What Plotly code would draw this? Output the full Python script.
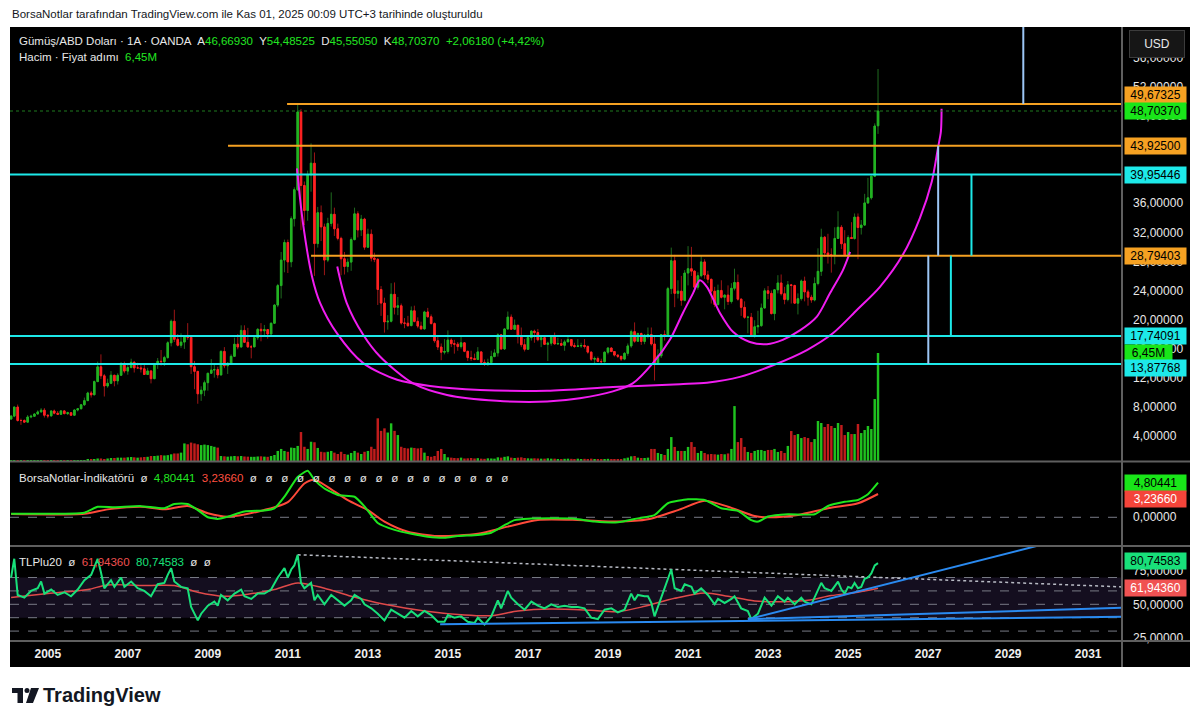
import plotly.graph_objects as go
import pandas as pd

# ---------------- Monthly XAG/USD (OANDA) Feb 2004 - Oct 2025 ----------------
opens = [
    6.29, 6.70, 7.95, 6.10, 6.10, 5.87, 6.58, 6.68, 6.99, 7.28, 7.52,
    6.82, 6.73, 7.41, 7.10, 6.95, 7.42, 7.04, 7.17, 6.82, 7.54, 7.72, 8.26,
    8.83, 9.88, 9.63, 11.45, 13.48, 12.25, 10.85, 11.22, 12.33, 11.55, 12.32, 13.86,
    12.90, 13.38, 14.11, 13.34, 13.34, 13.21, 12.43, 12.92, 11.85, 13.87, 14.25, 14.20,
    14.76, 16.80, 19.76, 17.27, 16.45, 16.89, 17.59, 17.55, 13.50, 12.86, 9.77, 10.27,
    11.30, 12.60, 13.04, 13.10, 12.37, 15.61, 13.63, 13.99, 14.93, 16.60, 16.22, 18.50,
    16.86, 16.23, 16.23, 17.50, 18.65, 18.44, 18.61, 18.01, 19.48, 21.99, 24.67, 28.18,
    30.60, 27.94, 33.88, 37.87, 48.58, 38.45, 35.01, 39.91, 41.52, 30.45, 34.70, 32.75,
    28.18, 33.23, 34.49, 32.48, 31.17, 28.36, 27.30, 27.90, 31.00, 34.55, 32.33, 33.82,
    29.95, 31.74, 28.45, 28.28, 24.13, 22.26, 19.67, 19.76, 23.47, 21.67, 21.89, 19.52,
    19.49, 19.15, 21.20, 19.74, 19.09, 18.71, 21.04, 20.37, 19.44, 17.07, 16.21, 15.50,
    15.60, 17.17, 16.67, 16.60, 16.27, 16.79, 15.62, 14.75, 14.62, 14.50, 15.54, 14.10,
    13.82, 14.07, 14.90, 15.40, 17.90, 15.95, 18.70, 20.33, 18.66, 19.21, 17.65, 16.53,
    15.90, 17.51, 18.40, 18.20, 17.22, 17.50, 16.58, 16.74, 17.66, 16.63, 16.70, 16.45,
    16.92, 17.24, 16.41, 16.29, 16.36, 16.42, 16.30, 15.51, 14.54, 14.63, 14.23, 14.19,
    15.50, 16.07, 15.59, 15.10, 14.93, 14.55, 15.34, 16.36, 18.33, 17.01, 18.07, 16.98,
    17.85, 17.93, 16.63, 13.97, 15.00, 17.93, 17.78, 24.25, 28.09, 23.60, 23.90, 22.64,
    26.40, 26.99, 26.66, 24.45, 26.03, 27.93, 26.13, 25.54, 23.90, 22.06, 24.00, 23.06,
    23.36, 22.47, 24.30, 25.10, 22.80, 21.67, 20.30, 20.31, 17.80, 19.00, 19.15, 21.59,
    23.95, 23.60, 20.81, 24.09, 25.03, 23.55, 22.76, 24.77, 24.68, 22.25, 22.87, 25.30,
    23.80, 23.07, 22.68, 24.95, 26.63, 31.33, 29.16, 28.90, 28.89, 31.16, 32.70, 30.43,
    28.90, 31.29, 31.15, 34.10, 32.66, 33.00, 36.05, 36.75, 39.72, 46.6693,
]
highs = [
    6.85, 7.95, 8.29, 6.35, 6.25, 6.85, 6.90, 7.10, 7.50, 7.80, 7.80,
    6.95, 7.45, 7.60, 7.40, 7.50, 7.50, 7.30, 7.20, 7.60, 7.80, 8.30, 9.25,
    10.05, 10.15, 11.60, 14.20, 15.20, 12.50, 11.85, 12.90, 12.35, 12.60, 14.15, 14.20,
    13.75, 14.60, 14.30, 14.05, 13.80, 13.80, 13.35, 13.00, 13.90, 14.70, 15.80, 15.00,
    17.00, 20.00, 21.35, 18.00, 18.10, 17.65, 19.50, 17.70, 14.30, 12.90, 10.80, 11.60,
    12.65, 14.55, 14.00, 13.50, 15.75, 16.20, 14.10, 15.20, 17.50, 18.00, 19.20, 19.20,
    18.85, 16.50, 17.80, 18.80, 19.50, 19.25, 18.70, 19.60, 22.10, 24.90, 29.30, 31.00,
    31.00, 34.20, 38.20, 49.80, 49.00, 39.00, 40.50, 44.25, 43.00, 35.50, 35.70, 33.20,
    34.00, 37.50, 35.40, 33.20, 31.40, 29.30, 28.40, 31.30, 35.40, 34.90, 34.40, 34.00,
    32.50, 32.40, 29.20, 28.45, 24.60, 23.00, 20.60, 25.00, 25.10, 23.10, 22.20, 20.20,
    20.50, 21.80, 21.90, 20.30, 19.70, 21.20, 21.60, 20.70, 19.60, 17.70, 16.70, 17.30,
    18.50, 17.40, 17.20, 16.90, 17.80, 16.90, 15.70, 15.70, 15.30, 16.20, 15.60, 14.50,
    14.60, 15.70, 15.90, 18.10, 18.00, 18.80, 21.10, 20.70, 20.00, 19.25, 18.90, 17.30,
    17.60, 18.50, 18.60, 18.70, 17.70, 17.70, 16.95, 17.80, 18.20, 17.50, 17.30, 17.20,
    17.70, 17.30, 16.80, 17.30, 16.80, 17.30, 16.40, 15.60, 14.90, 14.90, 14.60, 15.60,
    16.20, 16.20, 15.60, 15.20, 15.00, 15.50, 16.70, 18.60, 19.60, 18.20, 18.20, 18.00,
    18.90, 18.90, 17.60, 15.90, 18.00, 18.50, 24.50, 29.90, 28.90, 25.40, 26.00, 26.80,
    30.10, 30.00, 26.80, 26.50, 28.80, 28.30, 26.70, 25.60, 24.50, 24.80, 25.40, 23.45,
    24.70, 25.00, 27.00, 26.20, 22.90, 22.50, 20.50, 20.90, 19.90, 21.20, 22.20, 24.30,
    24.60, 24.00, 24.20, 26.10, 26.20, 24.50, 25.30, 24.90, 24.80, 23.60, 25.50, 25.90,
    24.10, 23.40, 25.80, 29.80, 32.50, 31.50, 31.80, 29.80, 32.70, 34.90, 33.00, 32.30,
    31.60, 33.40, 34.60, 34.60, 33.70, 37.30, 39.50, 39.80, 47.00, 54.48525,
]
lows = [
    6.25, 6.55, 5.95, 5.50, 5.75, 5.85, 6.40, 6.60, 6.95, 7.20, 6.50,
    6.40, 6.65, 6.95, 6.85, 6.90, 6.95, 6.85, 6.75, 6.80, 7.35, 7.60, 8.10,
    8.80, 9.25, 9.60, 11.40, 11.80, 9.40, 10.60, 11.10, 10.80, 11.05, 12.30, 12.60,
    12.40, 13.30, 12.70, 13.20, 12.70, 12.40, 12.35, 11.20, 11.80, 13.20, 13.65, 13.60,
    14.60, 16.30, 16.90, 16.30, 16.10, 15.95, 17.20, 12.50, 10.40, 8.40, 8.80, 9.45,
    10.20, 12.50, 12.00, 11.90, 12.30, 13.30, 12.50, 13.80, 14.90, 15.90, 16.15, 16.80,
    16.10, 14.65, 16.20, 17.20, 17.00, 17.80, 17.35, 17.80, 19.40, 21.70, 22.90, 26.50,
    26.40, 27.20, 32.80, 37.70, 32.30, 33.00, 33.60, 37.60, 26.00, 29.90, 30.80, 26.10,
    27.90, 32.80, 31.50, 30.90, 26.10, 26.20, 26.50, 26.70, 30.90, 31.30, 31.50, 29.60,
    29.90, 28.00, 27.90, 22.00, 20.50, 18.20, 18.60, 19.60, 20.70, 20.60, 19.30, 18.80,
    19.00, 19.10, 19.60, 18.80, 18.60, 18.60, 20.30, 19.30, 16.80, 15.80, 14.40, 15.20,
    15.30, 16.20, 15.30, 15.70, 16.00, 15.50, 14.30, 14.30, 14.40, 14.40, 13.90, 13.60,
    13.60, 14.00, 14.80, 14.90, 15.80, 15.80, 18.60, 18.60, 18.55, 16.70, 16.20, 15.60,
    15.80, 17.10, 16.80, 17.00, 16.20, 16.50, 14.30, 16.40, 16.60, 16.55, 16.40, 15.70,
    16.90, 16.20, 16.10, 16.20, 16.10, 16.00, 15.30, 14.30, 13.95, 14.15, 13.90, 14.10,
    15.20, 15.50, 14.90, 14.70, 14.30, 14.40, 15.00, 16.10, 16.80, 16.90, 16.50, 16.60,
    17.40, 16.40, 11.60, 13.90, 14.70, 17.10, 17.70, 23.50, 21.70, 22.90, 21.90, 22.50,
    24.70, 26.00, 23.80, 24.10, 25.80, 25.60, 25.00, 22.20, 21.70, 21.90, 22.90, 21.40,
    22.00, 22.20, 24.00, 22.60, 20.50, 20.10, 18.10, 17.60, 17.50, 18.10, 19.00, 21.50,
    22.80, 20.70, 19.90, 23.60, 23.30, 22.10, 22.50, 22.20, 22.20, 20.70, 22.60, 22.50,
    21.90, 22.30, 22.50, 24.70, 26.00, 28.60, 27.70, 26.45, 27.60, 31.10, 29.70, 28.70,
    28.75, 31.10, 31.00, 28.30, 31.70, 32.90, 35.90, 36.50, 39.70, 45.5505,
]
closes = [
    6.70, 7.95, 6.10, 6.10, 5.87, 6.58, 6.68, 6.99, 7.28, 7.52, 6.82,
    6.73, 7.41, 7.10, 6.95, 7.42, 7.04, 7.17, 6.82, 7.54, 7.72, 8.26, 8.83,
    9.88, 9.63, 11.45, 13.48, 12.25, 10.85, 11.22, 12.33, 11.55, 12.32, 13.86, 12.90,
    13.38, 14.11, 13.34, 13.34, 13.21, 12.43, 12.92, 11.85, 13.87, 14.25, 14.20, 14.76,
    16.80, 19.76, 17.27, 16.45, 16.89, 17.59, 17.55, 13.50, 12.86, 9.77, 10.27, 11.30,
    12.60, 13.04, 13.10, 12.37, 15.61, 13.63, 13.99, 14.93, 16.60, 16.22, 18.50, 16.86,
    16.23, 16.23, 17.50, 18.65, 18.44, 18.61, 18.01, 19.48, 21.99, 24.67, 28.18, 30.60,
    27.94, 33.88, 37.87, 48.58, 38.45, 35.01, 39.91, 41.52, 30.45, 34.70, 32.75, 28.18,
    33.23, 34.49, 32.48, 31.17, 28.36, 27.30, 27.90, 31.00, 34.55, 32.33, 33.82, 29.95,
    31.74, 28.45, 28.28, 24.13, 22.26, 19.67, 19.76, 23.47, 21.67, 21.89, 19.52, 19.49,
    19.15, 21.20, 19.74, 19.09, 18.71, 21.04, 20.37, 19.44, 17.07, 16.21, 15.50, 15.60,
    17.17, 16.67, 16.60, 16.27, 16.79, 15.62, 14.75, 14.62, 14.50, 15.54, 14.10, 13.82,
    14.07, 14.90, 15.40, 17.90, 15.95, 18.70, 20.33, 18.66, 19.21, 17.65, 16.53, 15.90,
    17.51, 18.40, 18.20, 17.22, 17.50, 16.58, 16.74, 17.66, 16.63, 16.70, 16.45, 16.92,
    17.24, 16.41, 16.29, 16.36, 16.42, 16.30, 15.51, 14.54, 14.63, 14.23, 14.19, 15.50,
    16.07, 15.59, 15.10, 14.93, 14.55, 15.34, 16.36, 18.33, 17.01, 18.07, 16.98, 17.85,
    17.93, 16.63, 13.97, 15.00, 17.93, 17.78, 24.25, 28.09, 23.60, 23.90, 22.64, 26.40,
    26.99, 26.66, 24.45, 26.03, 27.93, 26.13, 25.54, 23.90, 22.06, 24.00, 23.06, 23.36,
    22.47, 24.30, 25.10, 22.80, 21.67, 20.30, 20.31, 17.80, 19.00, 19.15, 21.59, 23.95,
    23.60, 20.81, 24.09, 25.03, 23.55, 22.76, 24.77, 24.68, 22.25, 22.87, 25.30, 23.80,
    23.07, 22.68, 24.95, 26.63, 31.33, 29.16, 28.90, 28.89, 31.16, 32.70, 30.43, 28.90,
    31.29, 31.15, 34.10, 32.66, 33.00, 36.05, 36.75, 39.72, 46.64, 48.7037,
]
volumes_m = [
    0.02, 0.02, 0.02, 0.02, 0.02, 0.02, 0.02, 0.02, 0.02, 0.02, 0.02,
    0.03, 0.03, 0.03, 0.03, 0.04, 0.03, 0.04, 0.04, 0.04, 0.05, 0.05, 0.06,
    0.08, 0.10, 0.12, 0.15, 0.15, 0.12, 0.15, 0.18, 0.18, 0.20, 0.20, 0.20,
    0.22, 0.24, 0.22, 0.20, 0.22, 0.24, 0.25, 0.30, 0.30, 0.32, 0.35, 0.33,
    0.35, 0.40, 0.45, 0.45, 0.50, 1.05, 1.00, 1.10, 1.05, 1.00, 0.95, 0.98,
    0.95, 0.90, 0.85, 0.80, 0.30, 0.28, 0.26, 0.28, 0.30, 0.28, 0.30, 0.27,
    0.26, 0.25, 0.25, 0.27, 0.28, 0.26, 0.25, 0.30, 0.36, 0.60, 0.72, 0.60,
    0.55, 0.80, 0.78, 0.90, 1.73, 0.85, 0.72, 1.15, 1.12, 0.78, 0.55, 0.52,
    0.55, 0.60, 0.50, 0.42, 0.55, 0.42, 0.38, 0.48, 0.60, 0.50, 0.42, 0.55,
    0.60, 0.85, 0.72, 2.55, 1.80, 1.95, 1.70, 2.25, 1.80, 1.55, 0.85, 0.78,
    0.75, 0.80, 0.78, 0.75, 0.78, 0.50, 0.30, 0.25, 0.30, 0.60, 0.72, 0.42,
    0.22, 0.20, 0.18, 0.17, 0.20, 0.15, 0.16, 0.18, 0.15, 0.17, 0.14, 0.13,
    0.16, 0.15, 0.14, 0.22, 0.20, 0.25, 0.28, 0.20, 0.18, 0.20, 0.22, 0.18,
    0.16, 0.15, 0.16, 0.15, 0.14, 0.14, 0.16, 0.14, 0.14, 0.12, 0.12, 0.13,
    0.14, 0.13, 0.12, 0.14, 0.12, 0.13, 0.12, 0.14, 0.12, 0.12, 0.11, 0.12,
    0.13, 0.12, 0.12, 0.11, 0.12, 0.16, 0.20, 0.28, 0.30, 0.20, 0.18, 0.18,
    0.20, 0.72, 0.72, 0.48, 0.42, 0.36, 0.72, 1.43, 0.84, 0.60, 0.60, 0.60,
    0.84, 1.13, 0.84, 0.48, 0.60, 0.48, 0.40, 0.42, 0.40, 0.38, 0.42, 0.40,
    0.45, 0.72, 3.28, 1.13, 1.37, 0.84, 0.54, 0.48, 0.60, 0.66, 0.66, 0.60,
    0.66, 0.66, 0.72, 0.54, 0.60, 0.48, 0.90, 1.79, 1.55, 1.61, 1.37, 1.43,
    1.37, 1.13, 1.31, 2.39, 2.27, 2.03, 2.21, 2.09, 1.97, 2.27, 2.15, 1.55,
    1.73, 1.61, 1.61, 2.21, 1.67, 1.85, 2.09, 1.91, 3.70, 6.45,
]
months = pd.date_range("2004-02-01", periods=len(closes), freq="MS")

# ---------------- BorsaNotlar-Indikatoru (pane 1) ----------------
ind_green_dates = ["2004-02-01", "2005-12-01", "2006-04-01", "2006-09-01", "2007-05-01", "2007-12-01",
                   "2008-03-01", "2008-07-01", "2008-10-01", "2009-01-01", "2009-04-01", "2009-07-01",
                   "2009-12-01", "2010-06-01", "2010-09-01", "2010-12-01", "2011-04-01", "2011-07-01",
                   "2011-09-01", "2011-12-01", "2012-04-01", "2012-09-01", "2012-12-01", "2013-04-01",
                   "2013-09-01", "2014-02-01", "2014-07-01", "2014-12-01", "2015-04-01", "2015-10-01",
                   "2016-02-01", "2016-06-01", "2016-09-01", "2017-01-01", "2017-09-01", "2018-03-01",
                   "2018-09-01", "2019-04-01", "2019-10-01", "2020-03-01", "2020-07-01", "2021-01-01",
                   "2021-06-01", "2021-11-01", "2022-04-01", "2022-08-01", "2022-10-01", "2023-01-01",
                   "2023-07-01", "2024-03-01", "2024-07-01", "2024-12-01", "2025-04-01", "2025-07-01",
                   "2025-10-01"]
ind_green_vals = [0.50, 0.64, 1.45, 1.40, 1.55, 1.25, 1.85, 1.85, 1.00, 0.00, -0.23, 0.09,
                  0.80, 0.95, 1.25, 2.86, 5.60, 6.45, 5.20, 4.00, 3.10, 2.85, 1.50, -0.80,
                  -1.75, -2.30, -2.70, -2.85, -2.60, -2.45, -2.15, -1.10, -0.40, -0.20, -0.15, -0.20,
                  -0.60, -0.70, -0.15, 0.30, 1.95, 2.50, 2.40, 1.25, 0.90, -0.40, -0.60, 0.10,
                  0.42, 0.42, 1.57, 2.15, 2.40, 3.20, 4.80441]
ind_red_dates = ["2004-02-01", "2005-12-01", "2006-07-01", "2007-05-01", "2007-12-01", "2008-07-01",
                 "2009-01-01", "2009-07-01", "2010-04-01", "2011-01-01", "2011-06-01", "2011-09-01",
                 "2012-01-01", "2012-07-01", "2013-01-01", "2013-06-01", "2014-01-01", "2014-10-01",
                 "2015-10-01", "2016-07-01", "2017-04-01", "2018-04-01", "2019-04-01", "2020-01-01",
                 "2020-10-01", "2021-06-01", "2022-01-01", "2022-09-01", "2023-01-01", "2023-10-01",
                 "2024-07-01", "2025-04-01", "2025-10-01"]
ind_red_vals = [0.45, 0.50, 1.10, 1.47, 1.10, 1.56, 0.56, 0.09, 0.78, 2.10, 4.70, 5.22,
                4.20, 2.37, 1.00, -0.60, -2.00, -2.60, -2.30, -1.30, -0.37, -0.37, -0.60, -0.28,
                1.00, 2.30, 1.47, 0.18, 0.00, 0.32, 1.25, 1.94, 3.2366]

# ---------------- TLPlu20 (pane 2) ----------------
tlp_dates = ["2004-02-01", "2004-03-01", "2004-04-01", "2004-06-01", "2004-08-01", "2004-10-01", "2004-11-01",
             "2004-12-01", "2005-02-01", "2005-04-01", "2005-06-01", "2005-08-01", "2005-10-01", "2005-12-01",
             "2006-02-01", "2006-04-01", "2006-05-01", "2006-06-01", "2006-08-01", "2006-09-01", "2006-11-01",
             "2006-12-01", "2007-02-01", "2007-04-01", "2007-06-01", "2007-08-01", "2007-10-01", "2007-12-01",
             "2008-01-01", "2008-02-01", "2008-03-01", "2008-05-01", "2008-07-01", "2008-08-01", "2008-10-01",
             "2008-11-01", "2009-01-01", "2009-03-01", "2009-04-01", "2009-05-01", "2009-07-01", "2009-09-01",
             "2009-11-01", "2009-12-01", "2010-02-01", "2010-04-01", "2010-06-01", "2010-08-01", "2010-10-01",
             "2010-12-01", "2011-01-01", "2011-02-01", "2011-03-01", "2011-04-01", "2011-05-01", "2011-06-01",
             "2011-08-01", "2011-09-01", "2011-10-01", "2011-12-01", "2012-02-01", "2012-04-01", "2012-06-01",
             "2012-08-01", "2012-09-01", "2012-11-01", "2012-12-01", "2013-02-01", "2013-04-01", "2013-06-01",
             "2013-08-01", "2013-10-01", "2013-12-01", "2014-02-01", "2014-04-01", "2014-06-01", "2014-08-01",
             "2014-10-01", "2014-12-01", "2015-01-01", "2015-03-01", "2015-05-01", "2015-07-01", "2015-09-01",
             "2015-10-01", "2015-12-01", "2016-02-01", "2016-04-01", "2016-05-01", "2016-07-01", "2016-08-01",
             "2016-10-01", "2016-12-01", "2017-02-01", "2017-04-01", "2017-06-01", "2017-08-01", "2017-10-01",
             "2017-12-01", "2018-02-01", "2018-04-01", "2018-06-01", "2018-08-01", "2018-10-01", "2018-12-01",
             "2019-02-01", "2019-04-01", "2019-06-01", "2019-08-01", "2019-09-01", "2019-10-01", "2019-12-01",
             "2020-01-01", "2020-02-01", "2020-03-01", "2020-05-01", "2020-07-01", "2020-08-01", "2020-09-01",
             "2020-11-01", "2020-12-01", "2021-02-01", "2021-03-01", "2021-05-01", "2021-07-01", "2021-09-01",
             "2021-10-01", "2021-12-01", "2022-02-01", "2022-03-01", "2022-05-01", "2022-07-01", "2022-08-01",
             "2022-10-01", "2022-12-01", "2023-02-01", "2023-04-01", "2023-06-01", "2023-07-01", "2023-09-01",
             "2023-11-01", "2023-12-01", "2024-02-01", "2024-04-01", "2024-05-01", "2024-06-01", "2024-08-01",
             "2024-10-01", "2024-11-01", "2024-12-01", "2025-01-01", "2025-02-01", "2025-03-01", "2025-04-01",
             "2025-05-01", "2025-06-01", "2025-07-01", "2025-08-01", "2025-09-01", "2025-10-01"]
tlp_vals = [70, 84, 57, 55, 60, 62, 67,
            58, 61, 57, 59, 56, 61, 68,
            72, 84, 74, 62, 68, 63, 70,
            63, 67, 62, 60, 56, 65, 66,
            72, 77, 67, 63, 62, 48, 38,
            43, 49, 52, 49, 57, 53, 58,
            61, 56, 54, 58, 58, 61, 70,
            77, 70, 76, 79, 87, 66, 62,
            66, 53, 57, 50, 57, 53, 49,
            53, 57, 54, 50, 47, 43, 38,
            46, 43, 40, 45, 41, 45, 42,
            37, 37, 42, 40, 41, 37, 36,
            40, 35, 41, 53, 47, 60, 55,
            50, 46, 52, 49, 47, 50, 48,
            49, 48, 48, 47, 40, 39, 46,
            47, 44, 46, 58, 53, 57, 56,
            56, 51, 41, 55, 70, 76, 62,
            60, 65, 63, 58, 62, 57, 50,
            54, 51, 54, 56, 47, 45, 39,
            43, 55, 49, 56, 52, 55, 50,
            55, 52, 50, 60, 66, 62, 60,
            67, 61, 58, 63, 62, 66, 62,
            63, 69, 70, 73, 79, 80.74583]
tlp_ma_dates = ["2004-02-01", "2005-01-01", "2006-01-01", "2006-07-01", "2007-07-01", "2008-03-01",
                "2008-10-01", "2009-06-01", "2010-01-01", "2010-09-01", "2011-04-01", "2011-12-01",
                "2012-08-01", "2013-06-01", "2014-06-01", "2015-06-01", "2016-02-01", "2016-10-01",
                "2017-08-01", "2018-08-01", "2019-04-01", "2019-12-01", "2020-09-01", "2021-06-01",
                "2022-01-01", "2022-09-01", "2023-06-01", "2024-01-01", "2024-08-01", "2025-04-01",
                "2025-10-01"]
tlp_ma_vals = [55, 58, 61, 64.5, 64, 64, 59, 56, 57.5, 61, 66, 62,
               56, 50, 45, 42, 41.5, 45, 46.5, 45.5, 44.5, 48.5, 54.5, 58.5,
               56, 52.5, 52, 53, 56.5, 59, 61.9436]

# ---------------- Drawings ----------------
orange_levels = [49.67325, 43.92500, 28.79403]
orange_starts = ["2010-12-25", "2009-07-04", "2011-08-01"]
cyan_levels = [39.95446, 17.74091, 13.87768]
last_price = 48.70370
proj_dates = ["2029-05-19", "2027-04-03", "2028-02-01", "2027-01-03", "2027-07-28"]
proj_from = [49.67325, 43.92500, 39.95446, 28.79403, 28.79403]
proj_to = [60.27, 28.79403, 28.79403, 13.87768, 17.74091]
proj_kind = ["blue", "blue", "cyan", "blue", "cyan"]

arc_a_dates = ["2011-03-25", "2011-05-19", "2011-08-10", "2011-10-22", "2012-03-25", "2012-11-19",
               "2013-09-25", "2014-07-22", "2015-10-22", "2017-06-25", "2019-02-15", "2020-10-19",
               "2021-06-22", "2022-04-19", "2023-02-15", "2023-12-22", "2024-08-15", "2025-03-22",
               "2025-10-19", "2026-05-15", "2026-10-19", "2027-02-04", "2027-04-01", "2027-04-28",
               "2027-05-04"]
arc_a_vals = [40.8, 33.3, 25.9, 22.3, 18.1, 14.0, 11.7, 10.85, 10.3, 10.2, 10.7, 11.1,
              11.3, 12.1, 13.7, 15.8, 18.1, 21.3, 24.5, 28.9, 34.0, 39.0, 43.6, 45.9, 49.0]
arc_b_dates = ["2012-03-27", "2012-06-21", "2012-11-19", "2013-04-21", "2014-02-18", "2014-12-24",
               "2016-03-22", "2017-06-25", "2018-04-19", "2019-02-15", "2019-08-15", "2020-02-15",
               "2020-07-19", "2020-11-15", "2021-02-15", "2021-04-19", "2021-06-22", "2021-10-19",
               "2022-02-15", "2022-07-19", "2022-12-22", "2023-05-15", "2023-10-19", "2024-03-22",
               "2024-07-19", "2024-11-15", "2025-01-19"]
arc_b_vals = [27.3, 22.3, 17.9, 14.9, 11.2, 9.6, 8.8, 8.7, 9.15, 10.1, 11.2, 14.0,
              17.2, 20.9, 23.6, 25.4, 24.5, 20.9, 18.3, 16.9, 16.6, 17.2, 18.5, 20.4,
              23.6, 26.8, 29.3]

tl_dates = [["2014-10-22", "2031-11-06"], ["2022-07-01", "2031-11-06"], ["2022-07-01", "2029-09-25"]]
tl_vals = [[35.1, 40.7], [38.8, 47.5], [38.8, 93.7]]
dotted_dates = ["2011-04-01", "2031-11-06"]
dotted_vals = [87.0, 63.0]

# ---------------- geometry helpers (page body has an 8px margin) ----------------
W, H = 1192, 716
L, R, T, B = 2, 78, 19, 83
PW, PH = W - L - R, H - T - B
def fx(px): return (px - 8 - L) / PW          # px = screen x
def fy(py): return (H - B - (py - 8)) / PH   # py = screen y

FONT = "Liberation Sans, Arial, sans-serif"
UP, DN = "#22b322", "#ff2222"
WUP, WDN = "#1f6b1f", "#9c1616"
VUP, VDN = "#1fc21f", "#c01c1c"
ORANGE, CYAN, LBLUE = "#f5a122", "#1de9e9", "#9cc6f5"
MAG = "#f01cf0"
G1, R1 = "#1ee61e", "#ff4a3a"
G2, R2 = "#18e07a", "#e04a4a"
BLUE = "#2a8af0"
XR = ["2004-01-22", "2031-11-06"]

fig = go.Figure()

vcol = [VUP if c >= o else VDN for o, c in zip(opens, closes)]
fig.add_trace(go.Bar(x=months, y=volumes_m, marker=dict(color=vcol, line=dict(width=0)),
                     yaxis="y2", hoverinfo="skip", showlegend=False))
fig.add_trace(go.Candlestick(x=months, open=opens, high=highs, low=lows, close=closes,
                             increasing=dict(line=dict(color=WUP, width=1), fillcolor=WUP),
                             decreasing=dict(line=dict(color=WDN, width=1), fillcolor=WDN),
                             whiskerwidth=0, hoverinfo="skip", showlegend=False))
body_hi = [max(o, c) for o, c in zip(opens, closes)]
body_lo = [min(o, c) for o, c in zip(opens, closes)]
fig.add_trace(go.Candlestick(x=months, open=opens, high=body_hi, low=body_lo, close=closes,
                             increasing=dict(line=dict(color=UP, width=1), fillcolor=UP),
                             decreasing=dict(line=dict(color=DN, width=1), fillcolor=DN),
                             whiskerwidth=0, hoverinfo="skip", showlegend=False))
for d, v in [(arc_a_dates, arc_a_vals), (arc_b_dates, arc_b_vals)]:
    fig.add_trace(go.Scatter(x=d, y=v, mode="lines", line=dict(color=MAG, width=2, shape="spline", smoothing=0.8),
                             hoverinfo="skip", showlegend=False))

fig.add_trace(go.Scatter(x=ind_red_dates, y=ind_red_vals, yaxis="y3", mode="lines",
                         line=dict(color=R1, width=2, shape="spline", smoothing=0.7), hoverinfo="skip", showlegend=False))
fig.add_trace(go.Scatter(x=ind_green_dates, y=ind_green_vals, yaxis="y3", mode="lines",
                         line=dict(color=G1, width=2, shape="spline", smoothing=0.5), hoverinfo="skip", showlegend=False))
fig.add_trace(go.Scatter(x=dotted_dates, y=dotted_vals, yaxis="y4", mode="lines",
                         line=dict(color="#b8bbc4", width=1.5, dash="dot"), hoverinfo="skip", showlegend=False))
fig.add_trace(go.Scatter(x=tlp_ma_dates, y=tlp_ma_vals, yaxis="y4", mode="lines",
                         line=dict(color=R2, width=1.5, shape="spline", smoothing=0.8), hoverinfo="skip", showlegend=False))
fig.add_trace(go.Scatter(x=tlp_dates, y=tlp_vals, yaxis="y4", mode="lines",
                         line=dict(color=G2, width=2), hoverinfo="skip", showlegend=False))
for d, v in zip(tl_dates, tl_vals):
    fig.add_trace(go.Scatter(x=d, y=v, yaxis="y4", mode="lines", line=dict(color=BLUE, width=2),
                             hoverinfo="skip", showlegend=False))

shapes = []
shapes.append(dict(type="rect", xref="paper", yref="paper", x0=fx(10), x1=fx(1190), y0=fy(667), y1=fy(27),
                   fillcolor="#000000", line=dict(width=0), layer="below"))
shapes.append(dict(type="rect", xref="paper", yref="y4", x0=0, x1=1, y0=40, y1=70,
                   fillcolor="rgba(126,87,194,0.16)", line=dict(width=0), layer="below"))
for lv in [30, 40, 50, 60, 70]:
    shapes.append(dict(type="line", xref="paper", yref="y4", x0=0, x1=1, y0=lv, y1=lv,
                       line=dict(color="#787b86", width=1, dash="dash"), layer="below"))
shapes.append(dict(type="line", xref="paper", yref="y3", x0=0, x1=1, y0=0, y1=0,
                   line=dict(color="#787b86", width=1, dash="dash"), layer="below"))
shapes.append(dict(type="line", xref="paper", yref="y", x0=0, x1=1, y0=last_price, y1=last_price,
                   line=dict(color="#1f7a1f", width=1, dash="dot")))
for lv, st in zip(orange_levels, orange_starts):
    shapes.append(dict(type="line", xref="x", yref="y", x0=st, x1=XR[1], y0=lv, y1=lv,
                       line=dict(color=ORANGE, width=2)))
for lv in cyan_levels:
    shapes.append(dict(type="line", xref="paper", yref="y", x0=0, x1=1, y0=lv, y1=lv,
                       line=dict(color=CYAN, width=2)))
for d, a, b, k in zip(proj_dates, proj_from, proj_to, proj_kind):
    shapes.append(dict(type="line", xref="x", yref="y", x0=d, x1=d, y0=a, y1=b,
                       line=dict(color=LBLUE if k == "blue" else CYAN, width=2)))
for py in [461.5, 546, 641]:
    shapes.append(dict(type="line", xref="paper", yref="paper", x0=fx(10), x1=fx(1190), y0=fy(py), y1=fy(py),
                       line=dict(color="#5f5f5f", width=2)))
shapes.append(dict(type="line", xref="paper", yref="paper", x0=fx(1122), x1=fx(1122), y0=fy(667), y1=fy(27),
                   line=dict(color="#5f5f5f", width=2)))
# TradingView logo glyph
shapes.append(dict(type="rect", xref="paper", yref="paper", x0=fx(12), x1=fx(23), y0=fy(693), y1=fy(688),
                   fillcolor="#131722", line=dict(width=0)))
shapes.append(dict(type="rect", xref="paper", yref="paper", x0=fx(17.5), x1=fx(23), y0=fy(703), y1=fy(688),
                   fillcolor="#131722", line=dict(width=0)))
shapes.append(dict(type="circle", xref="paper", yref="paper", x0=fx(24.5), x1=fx(29.5), y0=fy(693), y1=fy(688),
                   fillcolor="#131722", line=dict(width=0)))
pp = lambda a, b: f"{fx(a)},{fy(b)}"
shapes.append(dict(type="path", xref="paper", yref="paper",
                   path=f"M {pp(31,688)} L {pp(39,688)} L {pp(33,703)} L {pp(26,703)} Z",
                   fillcolor="#131722", line=dict(width=0)))

NB = "\u00a0"
def span(t, c): return f"<span style='color:{c}'>{t}</span>"
GV = "#22e622"
WH = "#e8e8e8"

ann = []
ann.append(dict(text="BorsaNotlar tarafından TradingView.com ile Kas 01, 2025 00:09 UTC+3 tarihinde oluşturuldu",
                x=fx(10), y=fy(14), xref="paper", yref="paper", xanchor="left", yanchor="middle",
                showarrow=False, font=dict(family=FONT, size=11.5, color="#131722")))
leg1 = ("Gümüş/ABD Doları · 1A · OANDA" + NB + " A" + span("46,66930", GV) + NB + " Y" + span("54,48525", GV)
        + NB + " D" + span("45,55050", GV) + NB + " K" + span("48,70370", GV) + NB + " "
        + span("+2,06180 (+4,42%)", GV))
ann.append(dict(text=leg1, x=fx(17), y=fy(41), xref="paper", yref="paper", xanchor="left", yanchor="middle",
                showarrow=False, font=dict(family=FONT, size=11.5, color=WH)))
ann.append(dict(text="Hacim · Fiyat adımı" + NB + " " + span("6,45M", GV), x=fx(17), y=fy(57), xref="paper",
                yref="paper", xanchor="left", yanchor="middle", showarrow=False,
                font=dict(family=FONT, size=11.5, color=WH)))
sep = NB * 2
leg3 = ("BorsaNotlar-İndikatörü" + sep + "ø" + sep + span("4,80441", GV) + sep + span("3,23660", "#ff5040")
        + sep + (NB * 2 + "\u2009").join(["ø"] * 17))
ann.append(dict(text=leg3, x=fx(17), y=fy(478), xref="paper", yref="paper", xanchor="left", yanchor="middle",
                showarrow=False, font=dict(family=FONT, size=11.5, color=WH)))
leg4 = ("TLPlu20" + sep + "ø" + sep + span("61,94360", "#f05050") + sep + span("80,74583", "#18e07a")
        + sep + "ø" + sep + "ø")
ann.append(dict(text=leg4, x=fx(17), y=fy(562), xref="paper", yref="paper", xanchor="left", yanchor="middle",
                showarrow=False, font=dict(family=FONT, size=11.5, color=WH)))
# USD box (annotation so it half-covers the top tick label)
ann.append(dict(text="USD", x=fx(1157), y=fy(44), xref="paper", yref="paper", xanchor="center",
                yanchor="middle", showarrow=False, bgcolor="#161616", bordercolor="#3c3c3c", borderwidth=1,
                width=54, height=26, borderpad=0, font=dict(family=FONT, size=12, color=WH)))
ann.append(dict(text="<b>TradingView</b>", x=fx(41), y=fy(695), xref="paper", yref="paper", xanchor="left",
                yanchor="middle", showarrow=False, font=dict(family=FONT, size=20, color="#131722")))

def tag(text, y, yref, bg, fg="#000000", yshift=0, width=58):
    return dict(text=text, x=fx(1124), xref="paper", xanchor="left", y=y, yref=yref, yanchor="middle",
                showarrow=False, bgcolor=bg, font=dict(family=FONT, size=12, color=fg), width=width,
                height=13, borderpad=1.5, yshift=yshift, align="center")

ann += [
    tag("49,67325", orange_levels[0], "y", ORANGE, yshift=9),
    tag("48,70370", last_price, "y", "#19e619"),
    tag("43,92500", orange_levels[1], "y", ORANGE),
    tag("39,95446", cyan_levels[0], "y", CYAN),
    tag("28,79403", orange_levels[2], "y", ORANGE),
    tag("17,74091", cyan_levels[1], "y", CYAN),
    tag("6,45M", volumes_m[-1], "y2", "#19e619", width=44),
    tag("13,87768", cyan_levels[2], "y", CYAN, yshift=-4),
    tag("4,80441", ind_green_vals[-1], "y3", "#19e619"),
    tag("3,23660", ind_red_vals[-1], "y3", "#f4443a", fg="#ffffff", yshift=-5),
    tag("80,74583", tlp_vals[-1], "y4", "#18e07a", yshift=2),
    tag("61,94360", tlp_ma_vals[-1], "y4", "#f05252", fg="#ffffff"),
]

axfont = dict(family=FONT, size=12, color=WH)
price_ticks = [4, 8, 12, 16, 20, 24, 28, 32, 36, 48, 52, 56]
year_ticks = [f"{y}-01-01" for y in range(2005, 2032, 2)]
fig.update_layout(
    width=W, height=H, margin=dict(l=L, r=R, t=T, b=B),
    paper_bgcolor="#ffffff", plot_bgcolor="#000000",
    showlegend=False, shapes=shapes, annotations=ann,
    xaxis=dict(type="date", range=XR, anchor="y4", showgrid=False, zeroline=False,
               tickvals=year_ticks, ticktext=[f"<b>{t[:4]}</b>" for t in year_ticks],
               tickfont=dict(family=FONT, size=12, color="#f0f0f0"), ticklabelstandoff=4,
               rangeslider=dict(visible=False), showline=False, ticks=""),
    yaxis=dict(domain=[fy(461), fy(27)], range=[0.52, 60.27], side="right", showgrid=False, zeroline=False,
               tickvals=price_ticks, ticktext=[f"{v},00000" for v in price_ticks], tickfont=axfont,
               ticks="", ticklabelstandoff=10),
    yaxis2=dict(overlaying="y", range=[0, 6.45 * 434 / 108], visible=False),
    yaxis3=dict(domain=[fy(545), fy(462)], range=[-3.85, 7.68], side="right", showgrid=False, zeroline=False,
                tickvals=[0], ticktext=["0,00000"], tickfont=axfont, ticks="", ticklabelstandoff=10),
    yaxis4=dict(domain=[fy(641), fy(547)], range=[22.6, 92.8], side="right", showgrid=False, zeroline=False,
                tickvals=[25, 50, 75], ticktext=["25,00000", "50,00000", "75,00000"], tickfont=axfont,
                ticks="", ticklabelstandoff=10),
)
fig.write_html("out.html")
